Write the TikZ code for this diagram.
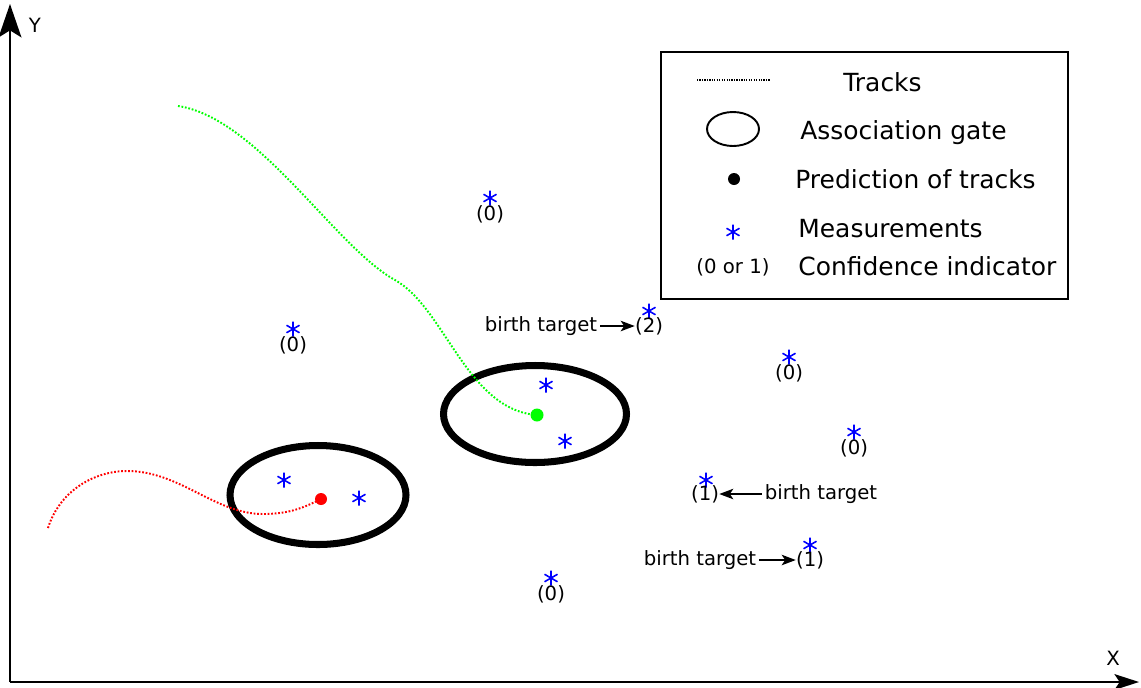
\documentclass[tikz,border=0pt]{standalone}
\usepackage{fontspec}
\setmainfont{DejaVu Sans}
\usetikzlibrary{arrows.meta}
\tikzset{meas/.pic={\draw[blue,line width=0.9pt] (0,-7.5) -- (0,7.5) (-6.5,-3.75) -- (6.5,3.75) (-6.5,3.75) -- (6.5,-3.75);}}

\begin{document}
\begin{tikzpicture}[x=0.02cm,y=-0.02cm,
    gate/.style={line width=4pt},
    conf/.style={inner sep=0pt,font=\fontsize{11.2}{13}\selectfont},
    lbl/.style={inner sep=1.5pt,font=\fontsize{11.2}{13}\selectfont},
    legtxt/.style={inner sep=0pt,anchor=base west,font=\fontsize{14.2}{17}\selectfont},
    track/.style={line width=1.1pt,dash pattern=on 1pt off 1pt},
    birth/.style={-{Stealth[length=8pt,width=6pt,inset=2pt]},line width=0.8pt}]
  \useasboundingbox (0,0) rectangle (1141,687);
  % axes
  \coordinate (O) at (10,682);
  \coordinate (ytop) at (10,4);
  \coordinate (xend) at (1139,682);
  \draw[line width=1.1pt,-{Stealth[length=19pt,width=13pt,inset=4pt]}] (O) -- (ytop);
  \draw[line width=1.1pt,-{Stealth[length=14pt,width=9pt,inset=3pt]}] (O) -- (xend);
  \node[lbl] (ylab) at (35,25) {Y};
  \node[lbl] (xlab) at (1113,658) {X};

  % legend
  \draw[line width=1pt] (661,52) rectangle (1068,299);
  \coordinate (la) at (697,80);
  \coordinate (lb) at (770,80);
  \draw[line width=0.7pt,dash pattern=on 0.7pt off 0.7pt] (la) -- (lb);
  \node[legtxt] (ltracks) at (843,91) {Tracks};
  \draw[line width=1.1pt] (733,129) ellipse [x radius=26, y radius=17];
  \node[legtxt] (lgate) at (800,139) {Association gate};
  \fill (734,179) circle [radius=6];
  \node[legtxt] (lpred) at (795,188) {Prediction of tracks};
  \pic (lmeas) at (733,232) {meas};
  \node[legtxt] (lmeastxt) at (798,237) {Measurements};
  \node[conf] (lconf) at (733,267) {(0 or 1)};
  \node[legtxt] (lconftxt) at (798,275) {Confidence indicator};

  % association gates
  \draw[gate] (318,495) ellipse [x radius=88, y radius=49.5];
  \draw[gate] (535,414) ellipse [x radius=91.5, y radius=48.5];

  % tracks and predictions
  \coordinate (predR) at (321,499);
  \coordinate (predG) at (537,415);
  \draw[track,red] (48,528) .. controls (60,490) and (95,471) .. (127,471)
    .. controls (180,471) and (215,514) .. (263,514)
    .. controls (290,514) and (305,507) .. (predR);
  \draw[track,green] (178,106) .. controls (258,118) and (335,247) .. (395,280)
    .. controls (445,308) and (467,410) .. (predG);
  \fill[red] (predR) circle [radius=6];
  \fill[green] (predG) circle [radius=6.5];

  % measurements inside the gates
  \pic (m1) at (284,480) {meas};
  \pic (m2) at (359,498) {meas};
  \pic (m3) at (546,385) {meas};
  \pic (m4) at (565,441) {meas};

  % measurements with confidence
  \pic (m5) at (490,198) {meas};
  \node[conf] (c5) at (490,214) {(0)};
  \pic (m6) at (293,329) {meas};
  \node[conf] (c6) at (293,345) {(0)};
  \pic (m7) at (649,311) {meas};
  \node[conf] (c7) at (649,326) {(2)};
  \pic (m8) at (789,357) {meas};
  \node[conf] (c8) at (789,373) {(0)};
  \pic (m9) at (854,432) {meas};
  \node[conf] (c9) at (854,448) {(0)};
  \pic (m10) at (706,480) {meas};
  \node[conf] (c10) at (705,494) {(1)};
  \pic (m11) at (810,545) {meas};
  \node[conf] (c11) at (810,560) {(1)};
  \pic (m12) at (551,578) {meas};
  \node[conf] (c12) at (551,594) {(0)};

  % birth targets
  \node[lbl] (b7) at (541,326) {birth target};
  \draw[birth] (b7) -- (c7);
  \node[lbl] (b10) at (821,494) {birth target};
  \draw[birth] (b10) -- (c10);
  \node[lbl] (b11) at (700,560) {birth target};
  \draw[birth] (b11) -- (c11);
\end{tikzpicture}
\end{document}
